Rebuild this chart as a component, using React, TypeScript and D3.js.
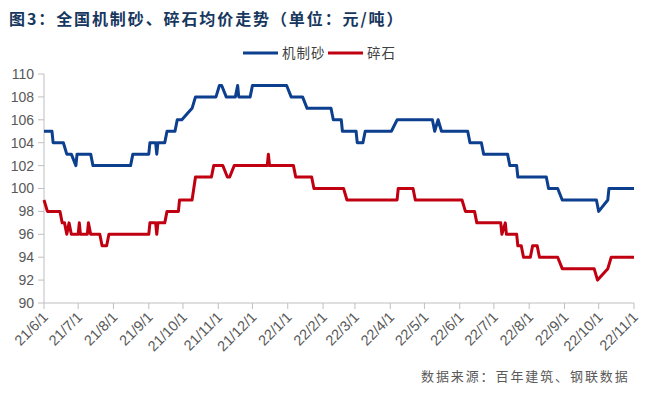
import React from "react";
import * as d3 from "d3";

const TITLE = "图3：全国机制砂、碎石均价走势（单位：元/吨）";
const SOURCE = "数据来源：百年建筑、钢联数据";
const SERIES_NAMES = ["机制砂", "碎石"];
const Y_TICKS = [90, 92, 94, 96, 98, 100, 102, 104, 106, 108, 110];
const X_TICKS = [
  "2021-06-01", "2021-07-01", "2021-08-01", "2021-09-01", "2021-10-01", "2021-11-01",
  "2021-12-01", "2022-01-01", "2022-02-01", "2022-03-01", "2022-04-01", "2022-05-01",
  "2022-06-01", "2022-07-01", "2022-08-01", "2022-09-01", "2022-10-01", "2022-11-01",
];

const SAND_DATES = [
  "2021-06-01", "2021-06-08", "2021-06-09", "2021-06-18", "2021-06-21", "2021-06-25",
  "2021-06-29", "2021-06-30", "2021-07-12", "2021-07-14", "2021-08-16", "2021-08-18",
  "2021-09-01", "2021-09-02", "2021-09-07", "2021-09-08", "2021-09-09", "2021-09-15",
  "2021-09-17", "2021-09-24", "2021-09-26", "2021-09-30", "2021-10-09", "2021-10-12",
  "2021-10-30", "2021-11-02", "2021-11-04", "2021-11-08", "2021-11-16", "2021-11-18",
  "2021-11-19", "2021-11-29", "2021-12-01", "2021-12-31", "2022-01-04", "2022-01-14",
  "2022-01-18", "2022-02-08", "2022-02-10", "2022-02-17", "2022-02-18", "2022-03-02",
  "2022-03-03", "2022-03-08", "2022-03-10", "2022-04-02", "2022-04-07", "2022-05-08",
  "2022-05-10", "2022-05-13", "2022-05-16", "2022-06-08", "2022-06-10", "2022-06-20",
  "2022-06-22", "2022-07-13", "2022-07-15", "2022-07-21", "2022-07-22", "2022-08-16",
  "2022-08-18", "2022-08-26", "2022-08-30", "2022-09-29", "2022-10-01", "2022-10-09",
  "2022-10-10", "2022-11-01",
];
const SAND_VALUES = [
  105, 105, 104, 104, 103, 103,
  102, 103, 103, 102, 102, 103,
  103, 104, 104, 103, 104, 104,
  105, 105, 106, 106, 107, 108,
  108, 109, 109, 108, 108, 109,
  108, 108, 109, 109, 108, 108,
  107, 107, 106, 106, 105, 105,
  104, 104, 105, 105, 106, 106,
  105, 106, 105, 105, 104, 104,
  103, 103, 102, 102, 101, 101,
  100, 100, 99, 99, 98, 99,
  100, 100,
];

const STONE_DATES = [
  "2021-06-01", "2021-06-04", "2021-06-15", "2021-06-17", "2021-06-19", "2021-06-21",
  "2021-06-23", "2021-06-25", "2021-07-01", "2021-07-02", "2021-07-03", "2021-07-09",
  "2021-07-10", "2021-07-12", "2021-07-20", "2021-07-22", "2021-07-26", "2021-07-28",
  "2021-09-01", "2021-09-02", "2021-09-07", "2021-09-08", "2021-09-09", "2021-09-15",
  "2021-09-17", "2021-09-27", "2021-09-28", "2021-10-09", "2021-10-12", "2021-10-26",
  "2021-10-28", "2021-11-05", "2021-11-09", "2021-11-11", "2021-11-15", "2021-12-14",
  "2021-12-15", "2021-12-16", "2022-01-06", "2022-01-08", "2022-01-22", "2022-01-24",
  "2022-02-19", "2022-02-22", "2022-04-07", "2022-04-08", "2022-04-21", "2022-04-23",
  "2022-06-03", "2022-06-06", "2022-06-14", "2022-06-16", "2022-07-07", "2022-07-08",
  "2022-07-11", "2022-07-12", "2022-07-21", "2022-07-22", "2022-07-25", "2022-07-27",
  "2022-08-02", "2022-08-04", "2022-08-08", "2022-08-10", "2022-08-26", "2022-08-30",
  "2022-09-27", "2022-09-30", "2022-10-09", "2022-10-12", "2022-11-01",
];
const STONE_VALUES = [
  99, 98, 98, 97, 97, 96,
  97, 96, 96, 97, 96, 96,
  97, 96, 96, 95, 95, 96,
  96, 97, 97, 96, 97, 97,
  98, 98, 99, 99, 101, 101,
  102, 102, 101, 101, 102, 102,
  103, 102, 102, 101, 101, 100,
  100, 99, 99, 100, 100, 99,
  99, 98, 98, 97, 97, 96,
  97, 96, 96, 95, 95, 94,
  94, 95, 95, 94, 94, 93,
  93, 92, 93, 94, 94,
];

const COLORS = ["#0d3f8f", "#c00010"];

const W = 654;
const H = 395;
const M = { left: 44, right: 634, top: 74, bottom: 303 };
const parse = d3.timeParse("%Y-%m-%d");

export default function App() {
  const x = d3
    .scaleTime()
    .domain([parse(X_TICKS[0])!, parse(X_TICKS[X_TICKS.length - 1])!])
    .range([M.left, M.right]);
  const y = d3.scaleLinear().domain([90, 110]).range([M.bottom, M.top]);
  const line = d3
    .line<[Date, number]>()
    .x((d) => x(d[0]))
    .y((d) => y(d[1]));

  const series = [
    SAND_DATES.map((d, i) => [parse(d)!, SAND_VALUES[i]] as [Date, number]),
    STONE_DATES.map((d, i) => [parse(d)!, STONE_VALUES[i]] as [Date, number]),
  ];
  const fmt = (s: string) => {
    const dt = parse(s)!;
    return `${String(dt.getFullYear()).slice(2)}/${dt.getMonth() + 1}/${dt.getDate()}`;
  };
  const axisColor = "#bfbfbf";
  const textColor = "#595959";
  const cjk = "'Noto Sans CJK SC', sans-serif";

  return (
    <svg width={W} height={H} style={{ position: "absolute", left: 0, top: 0, background: "#fff" }}>
      <text x={9} y={25} fontFamily={cjk} fontWeight={700} fontSize={16} letterSpacing={1.9} fill="#17375e">
        {TITLE}
      </text>
      {/* legend */}
      <g fontFamily={cjk} fontSize={13.5} fill="#404040">
        <line x1={243} x2={278} y1={53} y2={53} stroke={COLORS[0]} strokeWidth={3} />
        <text x={282} y={58} letterSpacing={1}>{SERIES_NAMES[0]}</text>
        <line x1={328} x2={363} y1={53} y2={53} stroke={COLORS[1]} strokeWidth={3} />
        <text x={367} y={58} letterSpacing={1}>{SERIES_NAMES[1]}</text>
      </g>
      {/* y axis */}
      <line x1={M.left} x2={M.left} y1={M.top} y2={M.bottom} stroke={axisColor} strokeWidth={1} />
      {Y_TICKS.map((t) => (
        <g key={t}>
          <line x1={M.left - 6} x2={M.left} y1={y(t)} y2={y(t)} stroke={axisColor} />
          <text
            x={34}
            y={y(t)}
            dy="0.35em"
            textAnchor="end"
            fontFamily="'Liberation Sans', Arial, sans-serif"
            fontSize={14}
            fill={textColor}
          >
            {t}
          </text>
        </g>
      ))}
      {/* x axis */}
      <line x1={M.left} x2={M.right} y1={M.bottom} y2={M.bottom} stroke={axisColor} strokeWidth={1} />
      {X_TICKS.map((t) => {
        const px = x(parse(t)!);
        return (
          <g key={t}>
            <line x1={px} x2={px} y1={M.bottom} y2={M.bottom + 6} stroke={axisColor} />
            <text
              transform={`translate(${px + 5},${M.bottom + 15}) rotate(-45)`}
              textAnchor="end"
              fontFamily="'Liberation Sans', Arial, sans-serif"
              fontSize={14.5}
              fill={textColor}
            >
              {fmt(t)}
            </text>
          </g>
        );
      })}
      {/* lines */}
      {series.map((s, i) => (
        <path key={i} d={line(s) || ""} fill="none" stroke={COLORS[i]} strokeWidth={3} strokeLinejoin="round" />
      ))}
      <text x={421} y={381} fontFamily={cjk} fontSize={13} letterSpacing={1.9} fill={textColor}>
        {SOURCE}
      </text>
    </svg>
  );
}
